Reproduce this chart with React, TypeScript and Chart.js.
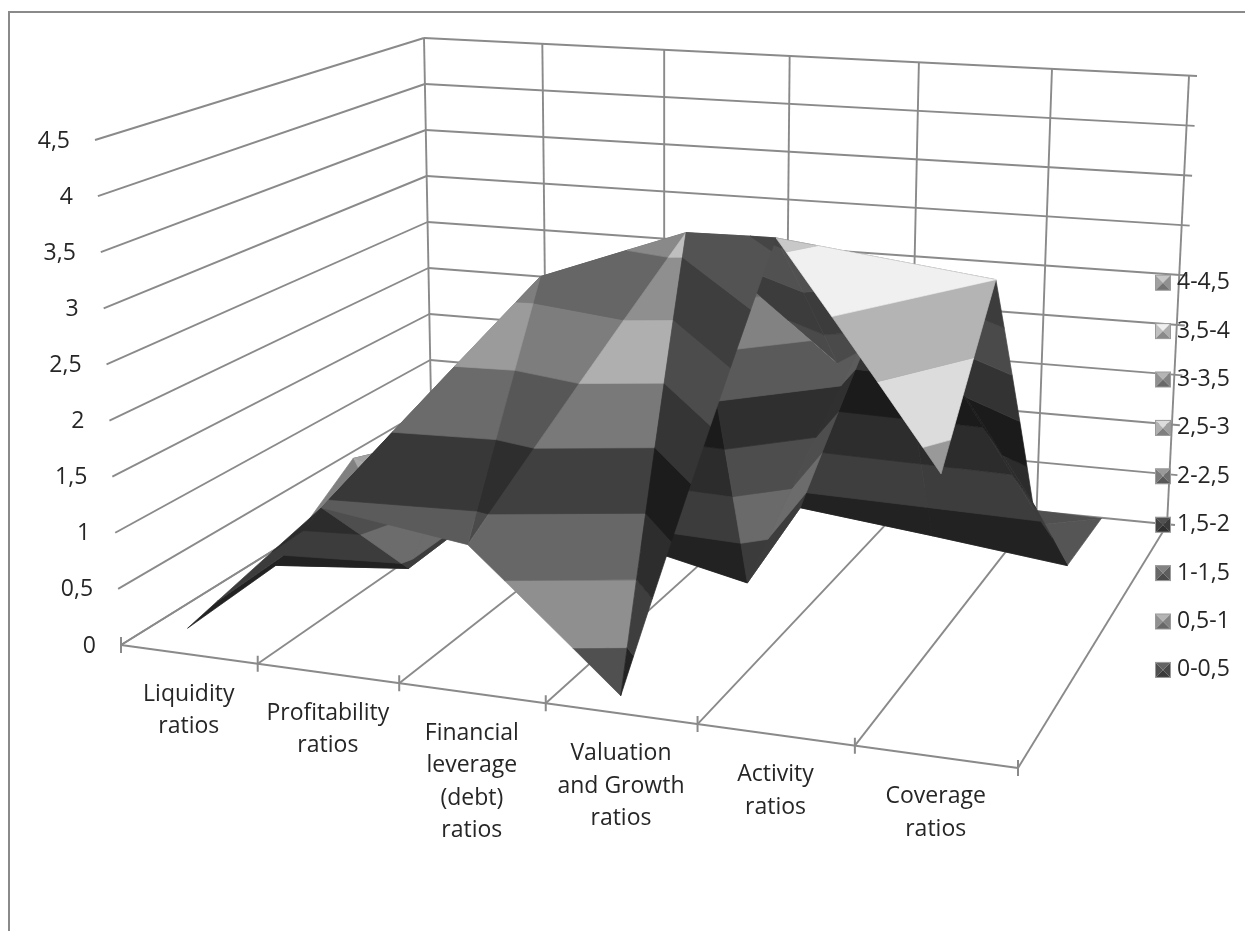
import React, { useEffect, useRef } from "react";
import { Chart, registerables } from "chart.js";

Chart.register(...registerables);

// Surface heights, one row per depth step, one column per ratio group.
const categories = [
  ["Liquidity", "ratios"],
  ["Profitability", "ratios"],
  ["Financial", "leverage", "(debt)", "ratios"],
  ["Valuation", "and Growth", "ratios"],
  ["Activity", "ratios"],
  ["Coverage", "ratios"],
];
const seriesA = [0.23, 1.44, 1.27, 0.15, 4.11, 2.3];
const seriesB = [0.29, 0.41, 3.2, 3.7, 2.66, 3.5];
const seriesC = [0.85, 0.45, 0.35, 0.07, 3.0, 1.1];
const seriesD = [0.6, 1.0, 1.2, 0.31, 0.17, 0.02];
const seriesE = [0.5, 1.0, 1.5, 2.5, 0.03, 0];
const rows = [seriesA, seriesB, seriesC, seriesD, seriesE];

const valueTicks = [0, 0.5, 1, 1.5, 2, 2.5, 3, 3.5, 4, 4.5];
const tickLabels = ["0", "0,5", "1", "1,5", "2", "2,5", "3", "3,5", "4", "4,5"];
const bandLabels = ["0-0,5", "0,5-1", "1-1,5", "1,5-2", "2-2,5", "2,5-3", "3-3,5", "3,5-4", "4-4,5"];
const bandGreys = [0x50, 0x90, 0x68, 0x40, 0x7a, 0xb0, 0x90, 0xc0, 0xa0];

const W = 1245;
const H = 931;
const MAX_Z = 4.5;
const GRID = "#8a8a8a";
const FONT = '23px "Open Sans"';

type Pt = { x: number; y: number };
type V3 = [number, number, number];

// Maps the unit square onto a quadrilateral (perspective).
function quadMap(p00: number[], p10: number[], p11: number[], p01: number[]) {
  const [x0, y0] = p00, [x1, y1] = p10, [x2, y2] = p11, [x3, y3] = p01;
  const dx1 = x1 - x2, dx2 = x3 - x2, sx = x0 - x1 + x2 - x3;
  const dy1 = y1 - y2, dy2 = y3 - y2, sy = y0 - y1 + y2 - y3;
  const det = dx1 * dy2 - dx2 * dy1;
  const g = (sx * dy2 - dx2 * sy) / det;
  const h = (dx1 * sy - sx * dy1) / det;
  const a = x1 - x0 + g * x1, b = x3 - x0 + h * x3;
  const d = y1 - y0 + g * y1, e = y3 - y0 + h * y3;
  return (u: number, v: number): Pt & { w: number } => {
    const w = g * u + h * v + 1;
    return { x: (a * u + b * v + x0) / w, y: (d * u + e * v + y0) / w, w };
  };
}

const floorMap = quadMap([121, 645], [1018, 768], [1167, 525], [432, 452]);
const ceilMap = quadMap([95, 140], [1034, 210], [1189, 76], [424, 38]);
const warp = (u: number, k: number) => u + k * u * (1 - u);

function project(u: number, v: number, z: number): Pt {
  const f = floorMap(warp(u, 0.035), v);
  const c = ceilMap(warp(u, 0.052), v);
  const t = z / MAX_Z;
  return { x: f.x + (c.x - f.x) * t, y: f.y + (c.y - f.y) * t };
}

const colU = (c: number) => (c + 0.5) / categories.length;
const rowV = (r: number) => r / (rows.length - 1);
const projectGrid = (p: V3) => project(colU(p[0]), rowV(p[1]), p[2]);
const depthOf = (p: V3) => floorMap(warp(colU(p[0]), 0.035), rowV(p[1])).w;

// Brightness of a facet from its orientation and the side facing the viewer.
function facetShade(a: V3, b: V3, c: V3) {
  const e1 = [b[0] - a[0], b[1] - a[1], b[2] - a[2]];
  const e2 = [c[0] - a[0], c[1] - a[1], c[2] - a[2]];
  let nx = e1[1] * e2[2] - e1[2] * e2[1];
  let ny = e1[2] * e2[0] - e1[0] * e2[2];
  let nz = e1[0] * e2[1] - e1[1] * e2[0];
  if (nz < 0) { nx = -nx; ny = -ny; nz = -nz; }
  const len = Math.hypot(nx, ny, nz) || 1;
  nx /= len; nz /= len;
  const area = (p: Pt, q: Pt, s: Pt) => (q.x - p.x) * (s.y - p.y) - (q.y - p.y) * (s.x - p.x);
  const flat = (t: V3): V3 => [t[0], t[1], 0];
  const seen = area(projectGrid(a), projectGrid(b), projectGrid(c));
  const base = area(projectGrid(flat(a)), projectGrid(flat(b)), projectGrid(flat(c)));
  const underside = seen * base < 0;
  let s: number;
  if (underside) {
    s = nz > 0.45 ? 0.42 : Math.min(0.75, 0.45 - 0.47 * nx);
  } else {
    s = 0.835 + 0.55 * nx + 0.3 * Math.max(0, nz - 0.5);
  }
  return Math.min(1.35, Math.max(0.42, s));
}

// Keeps the part of a triangle lying inside a height band.
function clipBand(poly: V3[], lo: number, hi: number): V3[] {
  const cut = (pts: V3[], keep: (z: number) => boolean, level: number) => {
    const out: V3[] = [];
    pts.forEach((p, i) => {
      const q = pts[(i + 1) % pts.length];
      if (keep(p[2])) out.push(p);
      if (keep(p[2]) !== keep(q[2])) {
        const t = (level - p[2]) / (q[2] - p[2]);
        out.push([p[0] + (q[0] - p[0]) * t, p[1] + (q[1] - p[1]) * t, level]);
      }
    });
    return out;
  };
  return cut(cut(poly, (z) => z >= lo, lo), (z) => z <= hi, hi);
}

const grey = (g: number, s: number) => {
  const n = Math.round(Math.min(255, g * s));
  return `rgb(${n},${n},${n})`;
};

function surfaceDatasets() {
  const tris: V3[][] = [];
  for (let r = 0; r < rows.length - 1; r++) {
    for (let c = 0; c < categories.length - 1; c++) {
      const p00: V3 = [c, r, rows[r][c]];
      const p10: V3 = [c + 1, r, rows[r][c + 1]];
      const p01: V3 = [c, r + 1, rows[r + 1][c]];
      const p11: V3 = [c + 1, r + 1, rows[r + 1][c + 1]];
      // Each cell folds along its higher diagonal.
      if (p00[2] + p11[2] >= p10[2] + p01[2]) {
        tris.push([p00, p10, p11], [p00, p11, p01]);
      } else {
        tris.push([p00, p10, p01], [p10, p11, p01]);
      }
    }
  }
  const key = (t: V3[]) => (depthOf(t[0]) + depthOf(t[1]) + depthOf(t[2])) / 3;
  tris.sort((a, b) => key(b) - key(a));

  const out: any[] = [];
  for (const t of tris) {
    const s = facetShade(t[0], t[1], t[2]);
    bandGreys.forEach((g, i) => {
      const poly = clipBand(t, i * 0.5, (i + 1) * 0.5);
      if (poly.length < 3) return;
      const pts = poly.map(projectGrid);
      const colour = grey(g, s);
      out.push({
        data: [...pts, pts[0]],
        fill: "shape",
        backgroundColor: colour,
        borderColor: colour,
        borderWidth: 0.7,
        borderJoinStyle: "round",
        pointRadius: 0,
        tension: 0,
      });
    });
  }
  return out;
}

function gridLine(a: Pt, b: Pt, width = 1.9) {
  return {
    data: [a, b],
    fill: false,
    borderColor: GRID,
    borderWidth: width,
    pointRadius: 0,
    tension: 0,
  };
}

function gridDatasets() {
  const out: any[] = [];
  const n = categories.length;
  for (const z of valueTicks) {
    const end = project(1, 1, z);
    out.push(gridLine(project(0, 0, z), project(0, 1, z)));
    out.push(gridLine(project(0, 1, z), { x: end.x + 8, y: end.y }));
  }
  for (let i = 0; i <= n; i++) {
    const u = i / n;
    out.push(gridLine(project(u, 0, 0), project(u, 1, 0)));
    out.push(gridLine(project(u, 1, 0), project(u, 1, MAX_Z)));
    const t = project(u, 0, 0);
    out.push(gridLine({ x: t.x, y: t.y - 8 }, { x: t.x, y: t.y + 8 }, 2));
  }
  out.push(gridLine(project(0, 0, 0), project(1, 0, 0), 2.2));
  return out;
}

// Value ticks, category captions and the band key.
const captions = {
  id: "captions",
  afterDatasetsDraw(chart: any) {
    const { ctx } = chart;
    ctx.save();
    ctx.font = FONT;
    ctx.fillStyle = "#262626";
    ctx.textBaseline = "middle";

    ctx.textAlign = "right";
    valueTicks.forEach((z, i) => {
      const p = project(0, 0, z);
      ctx.fillText(tickLabels[i], p.x - 25, p.y + 1);
    });

    ctx.textAlign = "center";
    categories.forEach((lines, i) => {
      const p = project(colU(i), 0, 0);
      lines.forEach((text, k) => ctx.fillText(text, p.x, p.y + 40 + k * 32.5));
    });

    ctx.textAlign = "left";
    const size = 15;
    const left = 1155.5;
    bandLabels.forEach((label, i) => {
      const row = bandLabels.length - 1 - i;
      const cy = 282.7 + row * 48.4;
      const top = cy - size / 2;
      const g = bandGreys[i];
      const cx = left + size / 2;
      const facet = (ax: number, ay: number, bx: number, by: number, s: number) => {
        ctx.fillStyle = grey(g, s);
        ctx.beginPath();
        ctx.moveTo(ax, ay);
        ctx.lineTo(bx, by);
        ctx.lineTo(cx, cy);
        ctx.closePath();
        ctx.fill();
      };
      facet(left, top, left + size, top, 1.25);
      facet(left, top, left, top + size, 1.0);
      facet(left + size, top, left + size, top + size, 0.9);
      facet(left, top + size, left + size, top + size, 0.72);
      ctx.strokeStyle = "#9a9a9a";
      ctx.lineWidth = 1;
      ctx.strokeRect(left, top, size, size);
      ctx.fillStyle = "#262626";
      ctx.fillText(label, 1177, cy);
    });
    ctx.restore();
  },
};

export default function App() {
  const ref = useRef<HTMLCanvasElement>(null);
  useEffect(() => {
    const drawList = [...gridDatasets(), ...surfaceDatasets()];
    drawList.forEach((d, i) => { d.order = drawList.length - i; });
    const chart = new Chart(ref.current as HTMLCanvasElement, {
      type: "line",
      data: { datasets: drawList },
      options: {
        animation: false,
        responsive: false,
        events: [],
        layout: { padding: 0 },
        plugins: { legend: { display: false }, tooltip: { enabled: false } },
        scales: {
          x: { type: "linear", min: 0, max: W, display: false },
          y: { type: "linear", min: 0, max: H, reverse: true, display: false },
        },
      },
      plugins: [captions],
    } as any);
    return () => chart.destroy();
  }, []);
  return (
    <div style={{ position: "absolute", left: 0, top: 0, width: W, height: H, background: "#fff", overflow: "hidden" }}>
      <div style={{ position: "absolute", left: 8, top: 11, right: 0, bottom: 0, borderTop: `2px solid ${GRID}`, borderLeft: `2px solid ${GRID}` }} />
      <canvas ref={ref} width={W} height={H} style={{ position: "absolute", left: 0, top: 0, display: "block" }} />
    </div>
  );
}
